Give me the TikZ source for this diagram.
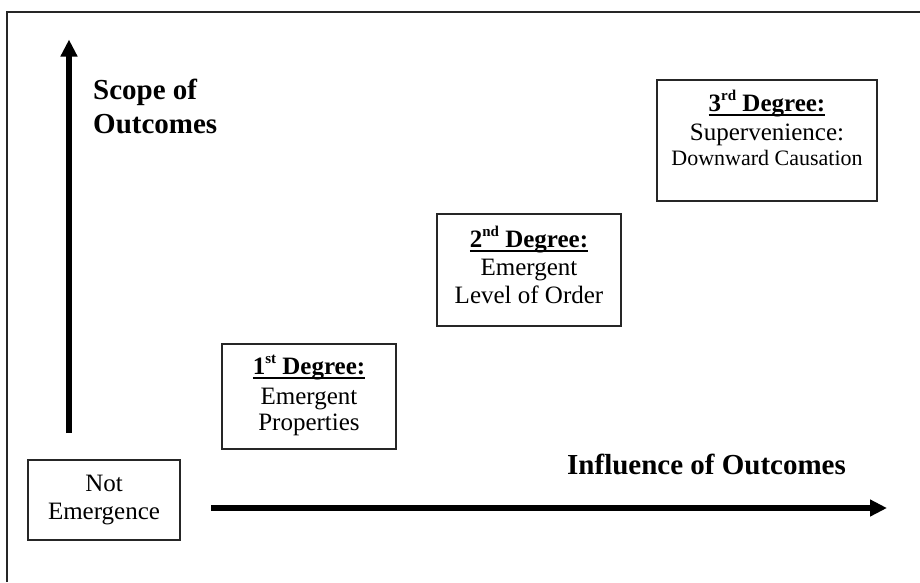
\documentclass[tikz,border=0pt]{standalone}
\usepackage{fontspec}
\setmainfont{Liberation Serif}
\usetikzlibrary{arrows.meta}
\newsavebox{\hdbox}
\newcommand{\hdline}[1]{\sbox{\hdbox}{#1}\rlap{\usebox{\hdbox}}\rule[-5.3pt]{\wd\hdbox}{2pt}}
\newcommand{\supr}[1]{\raisebox{10.5pt}{\fontsize{15}{15}\selectfont #1}}
\begin{document}
\begin{tikzpicture}[x=1pt,y=-1pt,
  box/.style={draw=black!85, line width=1.6pt, minimum width=#1},
  txt/.style={anchor=base, inner sep=0pt, font=\fontsize{25}{28}\selectfont},
  smalltxt/.style={anchor=base, inner sep=0pt, font=\fontsize{22}{25}\selectfont},
  hd/.style={anchor=base, inner sep=0pt, font=\fontsize{25}{28}\selectfont\bfseries},
  axislbl/.style={anchor=base west, inner sep=0pt, font=\fontsize{29}{33}\selectfont\bfseries},
  axis/.style={line width=5.5pt, -{Triangle[length=17pt,width=16pt]}},
  frame/.style={line width=2.5pt, draw=black!85}]
\useasboundingbox (0,0) rectangle (920,582);
\draw[frame] (7,582) -- (7,12) -- (920,12);

% boxes
\node (b3) [box=220, minimum height=121] at (767,140.5) {};
\node (b2) [box=184, minimum height=112] at (529,270) {};
\node (b1) [box=174, minimum height=105] at (309,396.5) {};
\node (b0) [box=152, minimum height=80] at (104,500) {};

% box texts
\node (t3a) [hd] at (767,111) {\hdline{3\supr{rd} Degree:}};
\node (t3b) [txt] at (767,140) {Supervenience:};
\node (t3c) [smalltxt] at (767,165) {Downward Causation};

\node (t2a) [hd] at (529,247) {\hdline{2\supr{nd} Degree:}};
\node (t2b) [txt] at (529,275) {Emergent};
\node (t2c) [txt] at (529,303) {Level of Order};

\node (t1a) [hd] at (309,374) {\hdline{1\supr{st} Degree:}};
\node (t1b) [txt] at (309,404) {Emergent};
\node (t1c) [txt] at (309,430) {Properties};

\node (t0a) [txt] at (104,491) {Not};
\node (t0b) [txt] at (104,519) {Emergence};

% axis labels
\node (sa) [axislbl] at (93,99) {Scope of};
\node (sb) [axislbl] at (93,133) {Outcomes};
\node (inf) [axislbl] at (567,474) {Influence of Outcomes};

% axes
\coordinate (vb) at (69,433);
\coordinate (vt) at (69,39.5);
\coordinate (hs) at (211,508);
\coordinate (he) at (887,508);
\draw[axis] (vb) -- (vt);
\draw[axis] (hs) -- (he);
\end{tikzpicture}
\end{document}
